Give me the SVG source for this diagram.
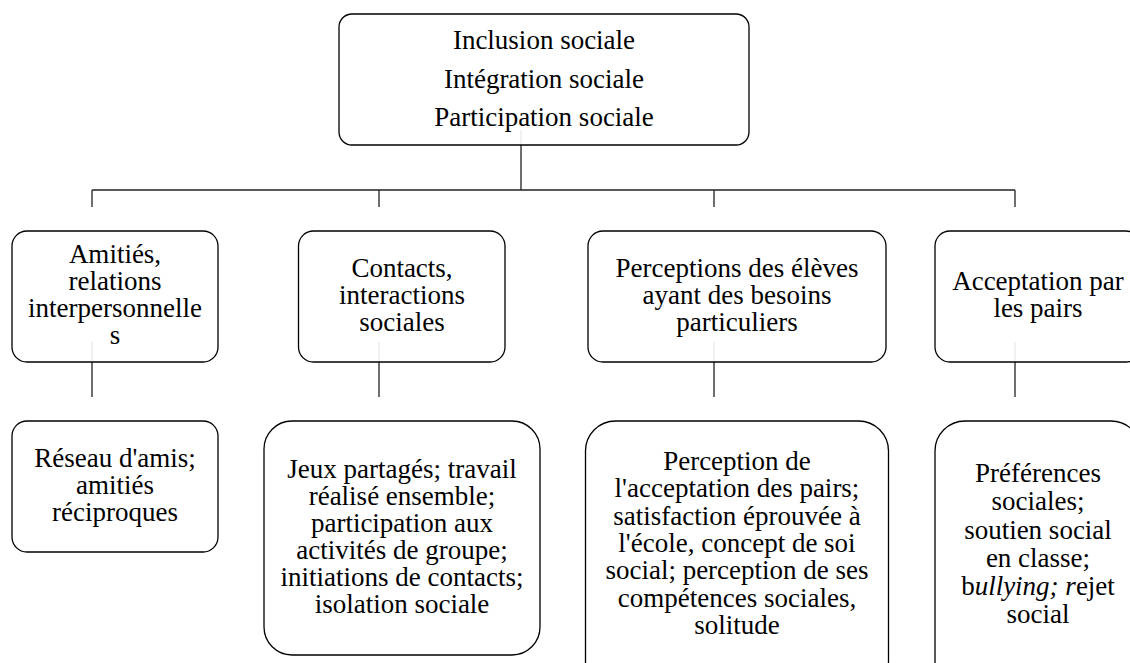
<svg xmlns="http://www.w3.org/2000/svg" width="1130" height="663" viewBox="0 0 1130 663">
<style>
.box{fill:#fff;stroke:#000;stroke-width:1.3}
.ln{stroke:#222;stroke-width:1.3;fill:none}
.faint{stroke:#e2e2e2;stroke-width:1;fill:none}
text{font-family:"Liberation Serif","Times New Roman",serif;font-size:27px;fill:#000;text-anchor:middle}
</style>
<rect width="1130" height="663" fill="#fff"/>
<g id="connectors">
<path class="ln" d="M521 145V190M92 190H1015M92 190V207M379 190V207M714 190V207M1015 190V207"/>
<path class="ln" d="M92 362V397M379 362V397M714 362V397M1015 362V397"/>
</g>
<g id="root">
<rect class="box" x="339" y="14" width="410" height="131" rx="13"/>
<line class="faint" x1="521" y1="130" x2="521" y2="144"/>
<text x="544" y="49">Inclusion sociale</text>
<text x="544" y="88">Intégration sociale</text>
<text x="544" y="126">Participation sociale</text>
</g>
<g id="amities">
<rect class="box" x="12" y="231" width="206" height="131" rx="15"/>
<line class="faint" x1="92" y1="342" x2="92" y2="361"/>
<text x="115" y="263">Amitiés,</text>
<text x="115" y="290">relations</text>
<text x="115" y="317">interpersonnelle</text>
<text x="115" y="344">s</text>
</g>
<g id="contacts">
<rect class="box" x="298.5" y="231" width="206.5" height="131" rx="15"/>
<line class="faint" x1="379" y1="342" x2="379" y2="361"/>
<text x="402" y="277">Contacts,</text>
<text x="402" y="304">interactions</text>
<text x="402" y="331">sociales</text>
</g>
<g id="perceptions">
<rect class="box" x="588" y="231" width="298" height="131" rx="15"/>
<line class="faint" x1="714" y1="342" x2="714" y2="361"/>
<text x="737" y="277">Perceptions des élèves</text>
<text x="737" y="304">ayant des besoins</text>
<text x="737" y="331">particuliers</text>
</g>
<g id="acceptation">
<rect class="box" x="935" y="231" width="206" height="131" rx="15"/>
<line class="faint" x1="1015" y1="342" x2="1015" y2="361"/>
<text x="1038" y="290">Acceptation par</text>
<text x="1038" y="317">les pairs</text>
</g>
<g id="reseau">
<rect class="box" x="12" y="421" width="206" height="131" rx="15"/>
<text x="115" y="467">Réseau d'amis;</text>
<text x="115" y="494">amitiés</text>
<text x="115" y="521">réciproques</text>
</g>
<g id="jeux">
<rect class="box" x="264" y="421" width="276" height="234" rx="28"/>
<text x="402" y="478">Jeux partagés; travail</text>
<text x="402" y="505">réalisé ensemble;</text>
<text x="402" y="532">participation aux</text>
<text x="402" y="559">activités de groupe;</text>
<text x="402" y="586">initiations de contacts;</text>
<text x="402" y="613">isolation sociale</text>
</g>
<g id="perception">
<rect class="box" x="585.5" y="421" width="303" height="270" rx="30"/>
<text x="737" y="470">Perception de</text>
<text x="737" y="497">l'acceptation des pairs;</text>
<text x="737" y="524.5">satisfaction éprouvée à</text>
<text x="737" y="552">l'école, concept de soi</text>
<text x="737" y="579">social; perception de ses</text>
<text x="737" y="606.5">compétences sociales,</text>
<text x="737" y="634">solitude</text>
</g>
<g id="preferences">
<rect class="box" x="935" y="421" width="206" height="270" rx="30"/>
<text x="1038" y="482">Préférences</text>
<text x="1038" y="510">sociales;</text>
<text x="1038" y="538.5">soutien social</text>
<text x="1038" y="566.5">en classe;</text>
<text x="1038" y="595">b<tspan font-style="italic">ullying; r</tspan>ejet</text>
<text x="1038" y="623">social</text>
</g>
</svg>
